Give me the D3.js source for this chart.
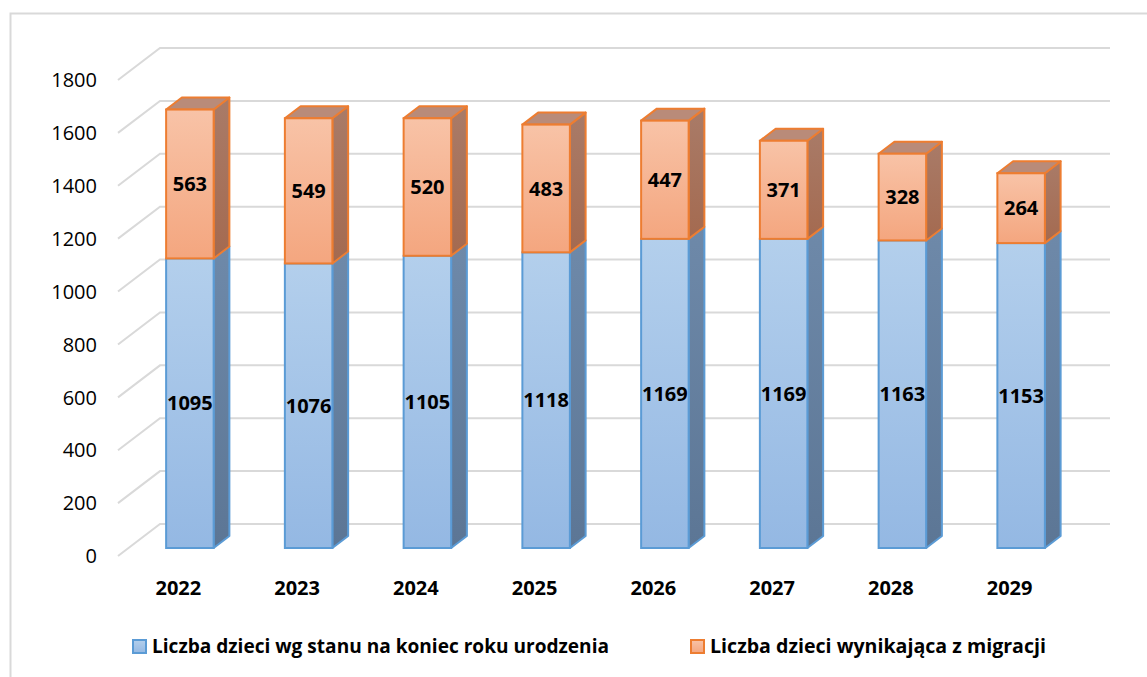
<!DOCTYPE html>
<html>
<head>
<meta charset="utf-8">
<script src="https://cdn.jsdelivr.net/npm/d3@7"></script>
<style>
  body { margin: 0; background: #fff; }
  svg { display: block; font-family: "Open Sans", "Liberation Sans", Arial, sans-serif; }
</style>
</head>
<body>
<svg id="chart" width="1147" height="677"></svg>
<script>
// data
var years     = ["2022", "2023", "2024", "2025", "2026", "2027", "2028", "2029"];
var urodzenia = [1095, 1076, 1105, 1118, 1169, 1169, 1163, 1153];
var migracja  = [563, 549, 520, 483, 447, 371, 328, 264];
var ticks     = [0, 200, 400, 600, 800, 1000, 1200, 1400, 1600, 1800];
var legendNames = ["Liczba dzieci wg stanu na koniec roku urodzenia", "Liczba dzieci wynikająca z migracji"];

var svg = d3.select("#chart");

// 3d floor: front edge, and depth vector to the back wall
var depthX = 42, depthY = -32;
var frontD = 0.25, backD = 0.625;   // where bars sit in depth

var x = d3.scaleBand().domain(years).range([120, 1070]).paddingInner(0.6).paddingOuter(0.3);
var y = d3.scaleLinear().domain([0, 1800]).range([556, 80]);

function pt(px, v, d) {
  return [px + depthX * d, y(v) + depthY * d];
}

// outer frame
svg.append("rect")
  .attr("x", 10.5).attr("y", 13.5)
  .attr("width", 1160).attr("height", 700)
  .attr("fill", "none").attr("stroke", "#d9d9d9").attr("stroke-width", 2);

// gradients
var defs = svg.append("defs");
function grad(id, c1, c2) {
  var g = defs.append("linearGradient").attr("id", id)
    .attr("x1", 0).attr("y1", 0).attr("x2", 0).attr("y2", 1);
  g.append("stop").attr("offset", "0%").attr("stop-color", c1);
  g.append("stop").attr("offset", "100%").attr("stop-color", c2);
}
grad("blueFront", "#b3cfec", "#94b8e3");
grad("blueSide", "#6e89a9", "#5c7695");
grad("orFront", "#f8c3a7", "#f4a67f");
grad("orSide", "#a97b68", "#a46a50");

// gridlines: diagonal on the floor/side + horizontal on the back wall
var grid = svg.append("g").attr("stroke", "#d9d9d9").attr("stroke-width", 2).attr("fill", "none");
ticks.forEach(function(t) {
  var a = pt(118, t, 0), b = pt(118, t, 1);
  grid.append("path").attr("d", d3.line()([a, b, [1110, b[1]]]));
});

// tick labels
svg.append("g").selectAll("text").data(ticks).join("text")
  .attr("x", 97).attr("y", function(d) { return y(d); })
  .attr("dy", "0.36em")
  .attr("text-anchor", "end")
  .attr("font-size", 20)
  .attr("fill", "#000")
  .text(function(d) { return d; });

// bars
var bars = svg.append("g");
function segment(g, x0, w, v0, v1, front, side, stroke, withTop) {
  var fl = pt(x0, v1, frontD), fr = pt(x0 + w, v1, frontD);
  var bl = pt(x0, v1, backD), br = pt(x0 + w, v1, backD);
  var fr0 = pt(x0 + w, v0, frontD), br0 = pt(x0 + w, v0, backD);
  g.append("path")
    .attr("d", d3.line()([fr, br, br0, fr0]) + "Z")
    .attr("fill", side).attr("stroke", stroke).attr("stroke-width", 2).attr("stroke-linejoin", "round");
  if (withTop) {
    g.append("path")
      .attr("d", d3.line()([fl, bl, br, fr]) + "Z")
      .attr("fill", "#b98b79").attr("stroke", stroke).attr("stroke-width", 2).attr("stroke-linejoin", "round");
  }
  var f0 = pt(x0, v0, frontD);
  g.append("rect")
    .attr("x", fl[0]).attr("y", fl[1])
    .attr("width", w).attr("height", f0[1] - fl[1])
    .attr("fill", front).attr("stroke", stroke).attr("stroke-width", 2);
}

years.forEach(function(yr, i) {
  var g = bars.append("g");
  var b = urodzenia[i], m = migracja[i];
  segment(g, x(yr), x.bandwidth(), 0, b, "url(#blueFront)", "url(#blueSide)", "#5b9bd5", false);
  segment(g, x(yr), x.bandwidth(), b, b + m, "url(#orFront)", "url(#orSide)", "#ed7d31", true);
});

// value labels, centred on the front faces
var lab = svg.append("g")
  .attr("font-size", 20).attr("font-weight", "bold").attr("text-anchor", "middle").attr("fill", "#000");
years.forEach(function(yr, i) {
  var cx = x(yr) + x.bandwidth() / 2 + depthX * frontD;
  var b = urodzenia[i], m = migracja[i];
  lab.append("text").attr("x", cx).attr("y", (pt(0, 0, frontD)[1] + pt(0, b, frontD)[1]) / 2)
    .attr("dy", "0.36em").text(b);
  lab.append("text").attr("x", cx).attr("y", (pt(0, b, frontD)[1] + pt(0, b + m, frontD)[1]) / 2)
    .attr("dy", "0.36em").text(m);
});

// category labels
svg.append("g").selectAll("text").data(years).join("text")
  .attr("x", function(d) { return x(d) + x.bandwidth() / 2 - 1; })
  .attr("y", 588).attr("dy", "0.36em")
  .attr("text-anchor", "middle")
  .attr("font-size", 20).attr("font-weight", "bold")
  .text(function(d) { return d; });

// legend
var legend = [
  { name: legendNames[0], x: 133, fill: "url(#blueFront)", stroke: "#5b9bd5", w: 457 },
  { name: legendNames[1], x: 691, fill: "url(#orFront)", stroke: "#ed7d31", w: 336 }
];
var lg = svg.append("g");
legend.forEach(function(l) {
  lg.append("rect").attr("x", l.x).attr("y", 640).attr("width", 13).attr("height", 13)
    .attr("fill", l.fill).attr("stroke", l.stroke).attr("stroke-width", 2);
  lg.append("text").attr("x", l.x + 19).attr("y", 653)
    .attr("font-size", 19).attr("font-weight", "bold")
    .attr("textLength", l.w).attr("lengthAdjust", "spacingAndGlyphs")
    .text(l.name);
});
</script>
</body>
</html>
